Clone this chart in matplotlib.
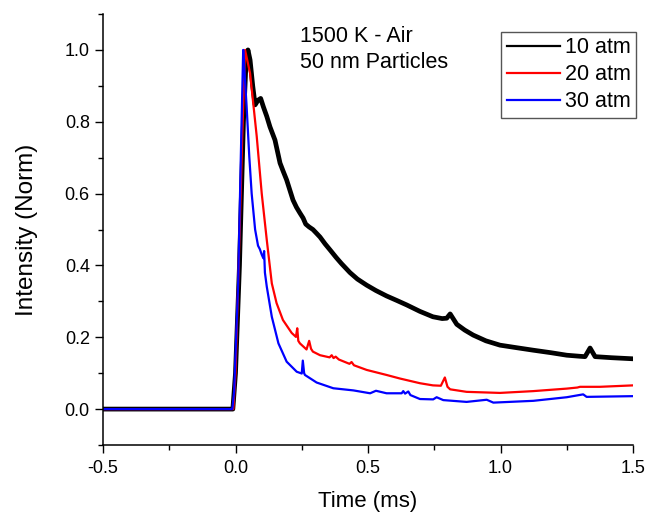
import matplotlib
matplotlib.use("Agg")
import matplotlib.pyplot as plt

plt.rcParams["font.family"] = ["Liberation Sans", "DejaVu Sans"]

# ---------------------------------------------------------------------------
# Data (time in ms, normalised intensity)
# ---------------------------------------------------------------------------

t_10 = [-0.5, -0.01, 0.0, 0.015, 0.03, 0.04, 0.047, 0.055, 0.065, 0.074, 0.085,
        0.095, 0.105, 0.118, 0.13, 0.149, 0.168, 0.18, 0.193, 0.205, 0.217,
        0.23, 0.243, 0.255, 0.265, 0.278, 0.292, 0.305, 0.319, 0.338, 0.357,
        0.38, 0.40, 0.432, 0.46, 0.495, 0.53, 0.57, 0.61, 0.646, 0.696, 0.745,
        0.78, 0.797, 0.81, 0.835, 0.865, 0.897, 0.945, 0.998, 1.06, 1.123,
        1.19, 1.25, 1.30, 1.319, 1.338, 1.357, 1.42, 1.5]
i_10 = [0.0, 0.0, 0.1, 0.4, 0.8, 0.97, 1.0, 0.972, 0.90, 0.847, 0.86,
        0.865, 0.842, 0.815, 0.786, 0.749, 0.685, 0.662, 0.638, 0.61, 0.582,
        0.562, 0.546, 0.532, 0.515, 0.507, 0.50, 0.49, 0.479, 0.46, 0.443,
        0.422, 0.405, 0.38, 0.362, 0.345, 0.33, 0.315, 0.302, 0.290, 0.272,
        0.257, 0.252, 0.253, 0.265, 0.236, 0.22, 0.206, 0.19, 0.178, 0.171,
        0.164, 0.157, 0.150, 0.147, 0.146, 0.170, 0.146, 0.143, 0.140]

t_20 = [-0.5, -0.008, 0.0, 0.012, 0.025, 0.036, 0.055, 0.08, 0.099, 0.118,
        0.137, 0.155, 0.179, 0.212, 0.228, 0.233, 0.237, 0.243, 0.268, 0.278,
        0.285, 0.292, 0.319, 0.355, 0.363, 0.370, 0.378, 0.39, 0.43, 0.438,
        0.447, 0.495, 0.57, 0.621, 0.696, 0.745, 0.775, 0.79, 0.80, 0.81,
        0.872, 0.998, 1.123, 1.25, 1.29, 1.30, 1.375, 1.5]
i_20 = [0.0, 0.0, 0.1, 0.4, 0.75, 1.0, 0.935, 0.76, 0.60, 0.471,
        0.35, 0.295, 0.248, 0.212, 0.201, 0.225, 0.19, 0.183, 0.166, 0.19,
        0.168, 0.160, 0.150, 0.144, 0.150, 0.142, 0.146, 0.138, 0.126, 0.131,
        0.122, 0.109, 0.095, 0.085, 0.072, 0.066, 0.065, 0.088, 0.062, 0.055,
        0.048, 0.045, 0.050, 0.057, 0.060, 0.062, 0.062, 0.066]

t_30 = [-0.5, -0.012, -0.005, 0.0, 0.01, 0.02, 0.029, 0.034, 0.042, 0.052,
        0.061, 0.074, 0.085, 0.092, 0.099, 0.105, 0.108, 0.111, 0.118, 0.137,
        0.162, 0.193, 0.231, 0.25, 0.254, 0.259, 0.262, 0.306, 0.369, 0.445,
        0.508, 0.53, 0.57, 0.627, 0.633, 0.64, 0.652, 0.66, 0.696, 0.746,
        0.759, 0.784, 0.872, 0.948, 0.973, 1.124, 1.25, 1.312, 1.325, 1.5]
i_30 = [0.0, 0.0, 0.05, 0.15, 0.35, 0.7, 1.0, 0.94, 0.842, 0.703,
        0.60, 0.50, 0.455, 0.445, 0.43, 0.42, 0.44, 0.38, 0.341, 0.257,
        0.183, 0.132, 0.104, 0.099, 0.135, 0.10, 0.095, 0.074, 0.058, 0.052,
        0.044, 0.051, 0.044, 0.044, 0.05, 0.043, 0.049, 0.039, 0.028, 0.027,
        0.033, 0.025, 0.020, 0.026, 0.018, 0.023, 0.033, 0.041, 0.034, 0.036]

labels = ["10 atm", "20 atm", "30 atm"]
colors = ["black", "red", "blue"]

W, H = 647, 512
fig = plt.figure(figsize=(W / 100, H / 100), dpi=100)
ax = fig.add_axes([103 / W, 1 - 445 / H, (633 - 103) / W, (445 - 14) / H])

ax.plot(t_10, i_10, color=colors[0], lw=3.4, label=labels[0])
ax.plot(t_20, i_20, color=colors[1], lw=1.6, label=labels[1])
ax.plot(t_30, i_30, color=colors[2], lw=1.6, label=labels[2])

ax.set_xlim(-0.5, 1.5)
ax.set_ylim(-0.1, 1.1)
ax.set_xticks([-0.5, 0.0, 0.5, 1.0, 1.5])
ax.set_xticklabels(["-0.5", "0.0", "0.5", "1.0", "1.5"])
ax.set_xticks([-0.25, 0.25, 0.75, 1.25], minor=True)
ax.set_yticks([0.0, 0.2, 0.4, 0.6, 0.8, 1.0])
ax.set_yticks([-0.1, 0.1, 0.3, 0.5, 0.7, 0.9, 1.1], minor=True)

for side in ("top", "right"):
    ax.spines[side].set_visible(False)
for side in ("left", "bottom"):
    ax.spines[side].set_linewidth(1.1)

ax.tick_params(which="major", direction="out", length=6, width=1.0,
               labelsize=13)
ax.tick_params(axis="x", which="major", pad=5)
ax.tick_params(which="minor", direction="out", length=3.5, width=1.0)

ax.set_xlabel("Time (ms)", fontsize=16, labelpad=10)
ax.set_ylabel("Intensity (Norm)", fontsize=17.5, labelpad=19)

fig.text(300 / W, 1 - 36 / H, "1500 K - Air", fontsize=15.5, va="center")
fig.text(300 / W, 1 - 62 / H, "50 nm Particles", fontsize=15.5, va="center")

leg = ax.legend(loc="upper right", bbox_to_anchor=(636 / W, 1 - 32 / H),
                bbox_transform=fig.transFigure, borderaxespad=0,
                fontsize=15.5, frameon=True, fancybox=False, framealpha=1,
                edgecolor="#555555", handlelength=2.5, handletextpad=0.2,
                labelspacing=0.28, borderpad=0.25)
leg.get_frame().set_linewidth(1.0)
for h in leg.get_lines():
    h.set_linewidth(1.6)

fig.savefig("out.png", dpi=100)
